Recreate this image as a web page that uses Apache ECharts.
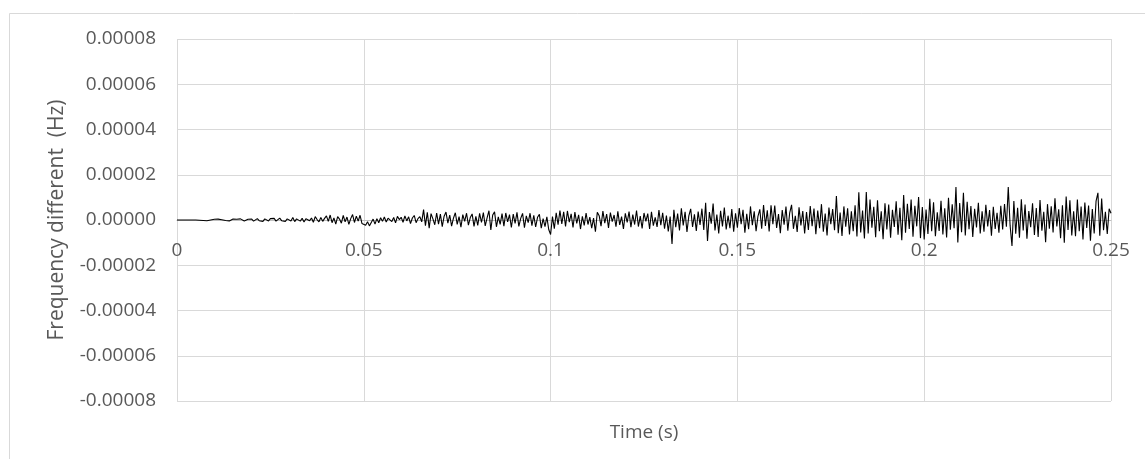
<!DOCTYPE html>
<html>
<head>
<meta charset="utf-8">
<script src="https://cdn.jsdelivr.net/npm/echarts@6/dist/echarts.min.js"></script>
<style>
html,body{margin:0;padding:0;background:#fff;}
#chart{width:1145px;height:459px;}
</style>
</head>
<body>
<div id="chart"></div>
<script>
// Sampling step of the time axis (s)
var timeStep = 0.0005;
// Frequency difference, in micro-Hz (1e-6 Hz), one value per time step
var freqDiffMicroHz = [
0,0,0,0,0,0,0,0,0,0, 0,0.2,-0.1,0.3,-0.2,0.1,-0.3,0.2,0,-0.2,
0.3,-0.2,0.4,-0.3,0.1,0.5,-0.2,0.3,-0.4,0.2, 0.4,-0.1,0.3,-0.3,0.5,0,-0.4,0.2,0.3,-0.2,
0.4,-0.5,0.3,0.6,-0.3,0.2,-0.6,0.5,0.1,-0.4, 0.6,-0.2,0.7,-0.5,0.3,0.8,-0.3,0.4,-0.6,0.5,
0.9,-0.4,1.1,-0.7,0.5,1.3,-0.5,0.8,-0.9,0.6, 1.2,-0.3,0.9,-1,1.5,0.2,-0.8,1.1,-0.6,0.7,
1.8,-0.6,2.2,-1.2,0.9,-1.8,1.5,0.4,-1.4,2.0, -0.8,1.3,-1.9,0.6,2.4,-1.1,1.7,-0.5,2.1,-1.5,
-1.2,-2.3,-0.8,-2.6,-1.1,0.4,-1.8,0.6,-1.2,1.0, -0.6,1.3,-0.9,0.8,1.5,-0.7,1.1,-1.3,1.6,0.2,
1.2,-1.0,1.8,-0.4,1.4,-1.6,0.9,2.0,-1.2,0.6, 1.5,-0.8,4.6,-2.5,3.4,-3.6,2.8,0.5,-2.1,3.1,
-1.8,2.6,-2.9,1.7,3.5,-1.4,2.2,-2.7,0.8,3.2, -1.9,1.5,-3.2,2.4,-0.6,3.0,-2.3,1.1,2.7,-2.8,
1.6,-2.4,2.9,-1.1,3.3,-2.6,0.9,4.1,-4.4,2.2, 3.6,-3.0,1.4,-1.9,2.8,-2.7,3.1,-0.8,2.4,-3.3,
2.6,-1.5,3.4,-2.8,0.7,2.9,-3.4,1.8,-1.2,3.0, -2.5,2.1,-3.1,1.2,2.5,-3.6,0.6,-2.9,1.4,-4.2,
-6.4,1.5,-3.8,3.2,-2.1,4.2,-1.7,3.6,-2.8,4.0, -0.9,2.7,-3.3,3.5,-1.5,2.3,-4.0,1.6,-2.4,3.1,
-2.0,1.3,-3.6,0.8,-5.2,3.4,1.9,-2.7,3.9,-1.4, 2.6,-3.5,3.3,-0.7,2.2,-3.0,3.8,-2.2,1.5,-3.9,
2.9,-1.1,3.7,-3.2,2.4,-2.0,4.2,-2.9,1.7,-3.7, 3.1,-0.6,2.8,-4.0,3.6,-2.5,1.2,-3.1,4.4,-2.3,
3.2,-3.8,2.0,-5.0,1.5,-10.6,4.5,-3.2,2.8,-4.6, 5.2,-2.4,3.6,-5.3,1.8,4.9,-3.1,2.5,-4.8,3.7,
-2.2,5.0,-4.4,7.6,-9.3,3.5,-1.6,7.3,-4.6,2.4, -5.9,4.1,-2.8,5.5,-4.2,1.9,-3.6,4.8,-5.2,3.0,
-3.4,5.3,-1.9,4.5,-5.6,2.7,-4.1,6.0,-2.3,3.8, -4.9,1.6,4.7,-3.8,6.6,-2.6,4.3,-5.1,6.5,-1.8,
6.4,-3.5,2.6,-5.8,4.4,-2.1,5.9,-4.7,3.2,6.7, -3.9,1.8,-5.3,5.6,-2.4,4.0,-6.0,3.5,-4.4,6.2,
-2.7,5.1,-6.3,4.2,-3.6,7.0,-5.2,2.9,-6.8,5.5, -1.9,4.8,-4.5,10.6,-5.8,3.3,-7.1,6.0,-3.0,5.2,
-6.4,3.8,-4.9,6.5,-7.3,12.3,-5.5,4.2,-8.2,12.4, -6.0,9.1,-3.4,5.8,-7.6,8.7,-5.0,3.9,-8.5,7.4,
-4.2,6.8,-7.8,4.5,-3.1,8.3,-6.5,5.4,-8.9,11.0, -5.6,7.2,-4.0,9.0,-7.4,6.3,-2.8,10.2,-8.0,5.7,
-8.6,4.6,-6.2,9.4,-5.0,7.8,-7.2,3.4,-4.8,8.5, -6.4,5.2,-7.7,9.8,-4.3,6.9,-3.6,14.6,-9.9,7.5,
-5.4,12.0,-6.8,8.0,-4.1,6.2,-7.5,5.0,-3.3,7.6, -6.0,3.8,-5.2,6.7,-2.8,4.4,-6.9,5.8,-4.0,3.2,
-5.6,6.3,-4.2,7.1,-3.0,14.6,-2.5,-11.5,8.4,-6.1, 5.4,-7.8,9.2,-4.6,6.8,-8.3,4.0,-3.2,7.4,-6.6,
5.3,-7.5,8.8,-4.7,3.6,-9.8,7.0,-3.9,6.1,-5.5, 9.6,-2.9,4.7,-8.0,6.5,-10.0,10.4,-4.4,8.7,-6.8,
3.8,-7.2,9.1,-5.0,5.9,-8.6,7.7,-3.5,6.4,-9.2, 4.8,-6.0,8.3,12.0,-7.0,9.5,-4.5,3.6,-6.2,5.0,
3.0
];
// Tick labels of the y axis (Hz), bottom to top; axis runs in micro-Hz
var yTickValues = [-80,-60,-40,-20,0,20,40,60,80];
var yTickLabels = ['-0.00008','-0.00006','-0.00004','-0.00002','0.00000','0.00002','0.00004','0.00006','0.00008'];
// Tick labels of the x axis (s)
var xTickValues = [0,0.05,0.1,0.15,0.2,0.25];
var xTickLabels = ['0','0.05','0.1','0.15','0.2','0.25'];

var seriesData = freqDiffMicroHz.map(function(v,i){ return [+(i*timeStep).toFixed(4), v]; });

var FONT = 'Open Sans';
var TXT = '#595959';
var GRID = '#d9d9d9';

var chart = echarts.init(document.getElementById('chart'), null, {renderer:'canvas'});
chart.setOption({
  animation:false,
  backgroundColor:'#fff',
  graphic:[{
    type:'rect', left:7, top:11, silent:true,
    shape:{x:0,y:0,width:1160,height:470},
    style:{fill:'none', stroke:GRID, lineWidth:1}
  }],
  grid:{left:177, right:34, top:39, bottom:58, containLabel:false, outerBoundsMode:'none'},
  xAxis:[{
    // tick labels sit along the zero line (Excel-style axis crossing at 0)
    type:'value', min:0, max:0.25, interval:0.05, position:'bottom', offset:-181,
    axisLine:{show:true, onZero:false, lineStyle:{color:'#bfbfbf', width:1}},
    axisTick:{show:false},
    axisLabel:{color:TXT, fontFamily:FONT, fontSize:19, margin:21,
      formatter:function(v){ var k = xTickValues.findIndex(function(t){return Math.abs(t-v)<1e-9;}); return k>=0 ? xTickLabels[k] : ''; }},
    splitLine:{show:true, lineStyle:{color:GRID, width:1}}
  },{
    // carries the axis title under the plot area
    type:'value', min:0, max:0.25, interval:0.05, position:'bottom', offset:0,
    name:'Time (s)', nameLocation:'middle', nameGap:22,
    nameTextStyle:{color:TXT, fontFamily:FONT, fontSize:19},
    axisLine:{show:false, onZero:false}, axisTick:{show:false}, axisLabel:{show:false}, splitLine:{show:false}
  }],
  yAxis:{
    type:'value', min:-80, max:80, interval:20,
    name:'Frequency different  (Hz)', nameLocation:'middle', nameGap:109, nameRotate:90,
    nameTextStyle:{color:TXT, fontFamily:FONT, fontSize:21},
    axisLine:{show:false},
    axisTick:{show:false},
    axisLabel:{color:TXT, fontFamily:FONT, fontSize:19, margin:21,
      formatter:function(v){ var k = yTickValues.indexOf(Math.round(v)); return k>=0 ? yTickLabels[k] : ''; }},
    splitLine:{show:true, lineStyle:{color:GRID, width:1}}
  },
  series:[{
    type:'line', xAxisIndex:0, data:seriesData, showSymbol:false, symbol:'none',
    lineStyle:{color:'#000', width:1.1}, z:5
  }]
});
</script>
</body>
</html>
